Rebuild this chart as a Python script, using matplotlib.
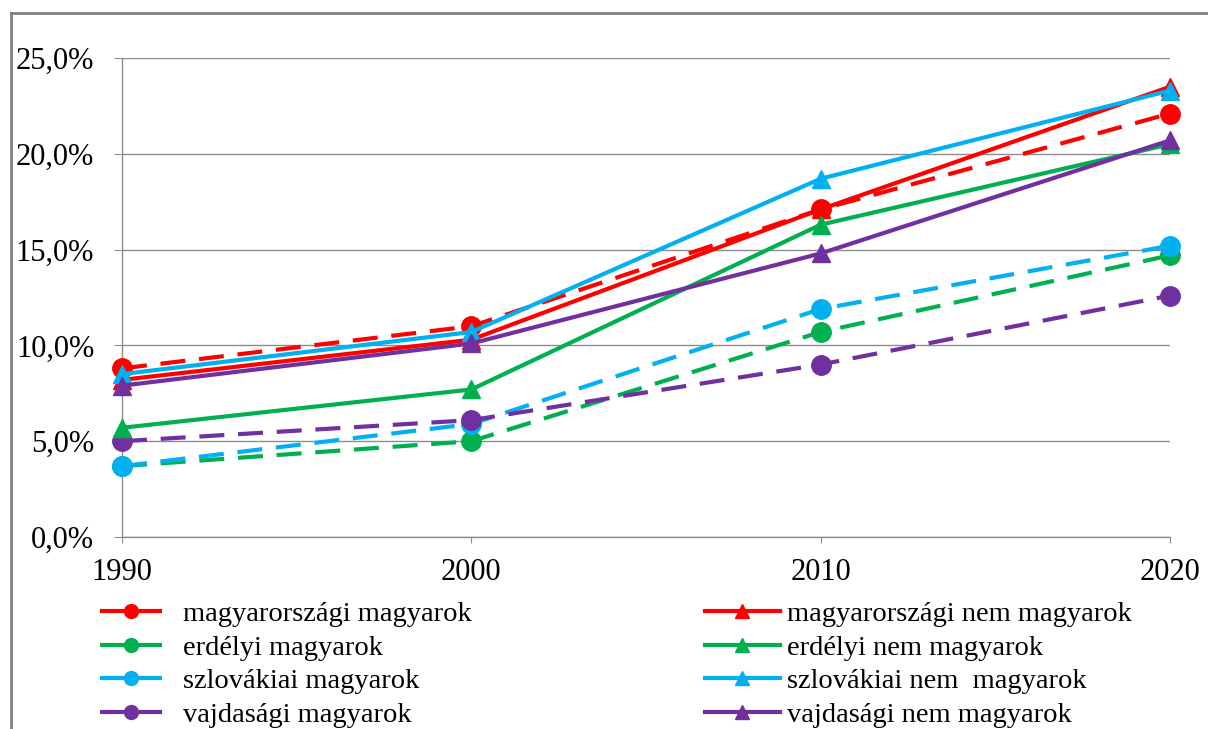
import matplotlib
matplotlib.use("Agg")
import matplotlib.pyplot as plt
from matplotlib.lines import Line2D
from matplotlib.ticker import FuncFormatter

plt.rcParams['font.family'] = ['Liberation Serif', 'DejaVu Serif']

years = [1990, 2000, 2010, 2020]

hu_m = [8.8, 11.0, 17.1, 22.1]
hu_nm = [8.2, 10.3, 17.1, 23.5]
er_m = [3.7, 5.0, 10.7, 14.7]
er_nm = [5.7, 7.7, 16.3, 20.5]
sk_m = [3.7, 5.9, 11.9, 15.2]
sk_nm = [8.5, 10.7, 18.7, 23.3]
vj_m = [5.0, 6.1, 9.0, 12.6]
vj_nm = [7.9, 10.1, 14.8, 20.7]

labels_m = ["magyarországi magyarok", "erdélyi magyarok", "szlovákiai magyarok", "vajdasági magyarok"]
labels_nm = ["magyarországi nem magyarok", "erdélyi nem magyarok", "szlovákiai nem  magyarok", "vajdasági nem magyarok"]
colors = ["#FF0000", "#00B050", "#00B0F0", "#7030A0"]

yticks = [0, 5, 10, 15, 20, 25]

fig = plt.figure(figsize=(12.08, 7.29), dpi=100)
ax = fig.add_axes([122/1208, 1-537/729, (1170-122)/1208, (537-58)/729])

m_series = [hu_m, er_m, sk_m, vj_m]
nm_series = [hu_nm, er_nm, sk_nm, vj_nm]

h_m, h_nm = [], []
for vals, c, lab in zip(m_series, colors, labels_m):
    l, = ax.plot(years, vals, color=c, lw=3, dashes=(6, 3.3), marker='o',
                 markersize=14, label=lab, clip_on=False, zorder=3)
    h_m.append(l)
for vals, c, lab in zip(nm_series, colors, labels_nm):
    l, = ax.plot(years, vals, color=c, lw=3, marker='^', markersize=13,
                 label=lab, clip_on=False, zorder=3)
    h_nm.append(l)

ax.set_xlim(1990, 2020)
ax.set_ylim(0, 25)
ax.set_xticks(years)
ax.set_yticks(yticks)
ax.yaxis.set_major_formatter(FuncFormatter(lambda v, p: f"{v:.1f}%".replace('.', ',')))
ax.grid(axis='y', color='#8c8c8c', lw=1)
ax.set_axisbelow(True)
for s in ['top', 'right']:
    ax.spines[s].set_visible(False)
for s in ['left', 'bottom']:
    ax.spines[s].set_color('#8c8c8c')
    ax.spines[s].set_linewidth(1)
ax.tick_params(axis='both', labelsize=22, colors='black')
ax.tick_params(axis='y', length=6, color='#8c8c8c', direction='out', pad=14)
ax.tick_params(axis='x', length=4, color='#8c8c8c', direction='out', pad=11)

leg1 = fig.legend(handles=h_m, loc='upper left', bbox_to_anchor=(100/1208, 1-601/729),
                  frameon=False, fontsize=20.5, handlelength=2.18, handletextpad=0.74,
                  labelspacing=0.27, borderpad=0, borderaxespad=0)
leg2 = fig.legend(handles=h_nm, loc='upper left', bbox_to_anchor=(705/1208, 1-601/729),
                  frameon=False, fontsize=20.5, handlelength=2.63, handletextpad=0.25,
                  labelspacing=0.27, borderpad=0, borderaxespad=0)
for leg in (leg1, leg2):
    for lh in leg.legend_handles:
        lh.set_markersize(10)

fig.add_artist(Line2D([11/1208, 11/1208], [0, 1-13/729], transform=fig.transFigure, color='#808080', lw=2))
fig.add_artist(Line2D([11/1208, 1], [1-13/729, 1-13/729], transform=fig.transFigure, color='#808080', lw=2))

fig.savefig("out.png", dpi=100)
